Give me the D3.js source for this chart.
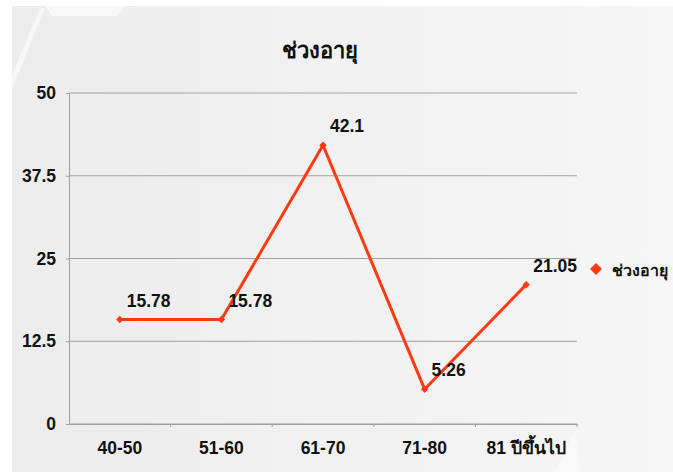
<!DOCTYPE html>
<html><head><meta charset="utf-8">
<script src="https://cdn.jsdelivr.net/npm/d3@7/dist/d3.min.js"></script>
<style>
html,body{margin:0;padding:0;background:#fff;}
svg{display:block;}
text{font-family:"Liberation Sans Narrow","Liberation Sans",Arial,sans-serif;font-weight:bold;}
</style></head>
<body><svg id="c" width="673" height="472"></svg>
<script>
const categories = ["40-50","51-60","61-70","71-80","81 ปีขึ้นไป"];
const values = [15.78, 15.78, 42.1, 5.26, 21.05];
const valueLabels = ["15.78","15.78","42.1","5.26","21.05"];
const yTicks = [0, 12.5, 25, 37.5, 50];
const yTickLabels = ["0","12.5","25","37.5","50"];
const seriesName = "ช่วงอายุ";
const title = "ช่วงอายุ";

const svg = d3.select("#c");
const W = 673, H = 472;
const red = "#ff3a12";

// background
const defs = svg.append("defs");
const g1 = defs.append("linearGradient").attr("id","bg").attr("x1","0").attr("x2","1").attr("y1","0").attr("y2","0");
g1.append("stop").attr("offset","0").attr("stop-color","#ececec");
g1.append("stop").attr("offset","1").attr("stop-color","#f6f6f6");
svg.append("rect").attr("width",W).attr("height",H).attr("fill","#ffffff");
svg.append("rect").attr("x",12).attr("y",6).attr("width",W-12).attr("height",H-6).attr("fill","url(#bg)");
// decorative hexagon shapes
svg.append("path").attr("d","M45,6 L125,6 L118,16 L52,16 Z").attr("fill","#f8f8f8");
svg.append("path").attr("d","M45,8 L12,90 L12,75 L40,8 Z").attr("fill","#f7f7f7");
svg.append("path").attr("d","M555,472 L575,430 L580,472 Z").attr("fill","#f9f9f9");

const m = {l:69, r:577, t:93, b:424};
const x = d3.scaleBand().domain(categories).range([m.l, m.r]);
const y = d3.scaleLinear().domain([0,50]).range([m.b, m.t]);

// gridlines
svg.append("g").selectAll("line").data(yTicks).join("line")
  .attr("x1", m.l).attr("x2", m.r)
  .attr("y1", d=>y(d)).attr("y2", d=>y(d))
  .attr("stroke","#a0a0a0").attr("stroke-width",1);

const fontCss = "'Liberation Sans Narrow','Liberation Sans',Arial,sans-serif";
// y axis
const ya = svg.append("g").attr("transform",`translate(${m.l},0)`)
  .call(d3.axisLeft(y).tickValues(yTicks).tickFormat((d,i)=>yTickLabels[i]).tickSize(3).tickPadding(10));
ya.select(".domain").attr("stroke","#a0a0a0");
ya.selectAll(".tick line").attr("stroke","#a0a0a0");
ya.selectAll("text").attr("font-size",17.5).attr("fill","#111")
  .style("font-family",fontCss).style("font-weight","bold");

// x axis
const xa = svg.append("g").attr("transform",`translate(0,${m.b})`)
  .call(d3.axisBottom(x).tickSize(0).tickPadding(18));
xa.select(".domain").attr("stroke","#a0a0a0");
xa.selectAll(".tick line").remove();
xa.selectAll("text").attr("font-size",17.5).attr("fill","#111")
  .style("font-family",fontCss).style("font-weight","bold");
// boundary tick marks
const bounds = categories.map(c => x(c) + x.bandwidth());
svg.append("g").selectAll("line").data(bounds).join("line")
  .attr("x1", d=>d).attr("x2", d=>d).attr("y1", m.b).attr("y2", m.b+3)
  .attr("stroke","#a0a0a0");

// line
const cx = c => x(c) + x.bandwidth()/2;
const pts = categories.map((c,i)=>({c, v: values[i], l: valueLabels[i]}));
svg.append("path").datum(pts)
  .attr("d", d3.line().x(d=>cx(d.c)).y(d=>y(d.v)))
  .attr("fill","none").attr("stroke",red).attr("stroke-width",3).attr("stroke-linejoin","round");
svg.append("g").selectAll("path").data(pts).join("path")
  .attr("transform", d=>`translate(${cx(d.c)},${y(d.v)}) rotate(45)`)
  .attr("d", d3.symbol(d3.symbolSquare, 28)).attr("fill",red);

// data labels
svg.append("g").selectAll("text").data(pts).join("text")
  .attr("x", d=>cx(d.c)+7).attr("y", d=>y(d.v)-13)
  .attr("font-size",17.5).attr("fill","#111").text(d=>d.l);

// title
svg.append("text").attr("x",320).attr("y",58).attr("text-anchor","middle")
  .attr("font-size",22).attr("fill","#111").text(title);

// legend
svg.append("path").attr("transform","translate(596,269) rotate(45)")
  .attr("d", d3.symbol(d3.symbolSquare, 72)).attr("fill",red);
svg.append("text").attr("x",612).attr("y",276).attr("font-size",16).attr("fill","#111").text(seriesName);
</script></body></html>
